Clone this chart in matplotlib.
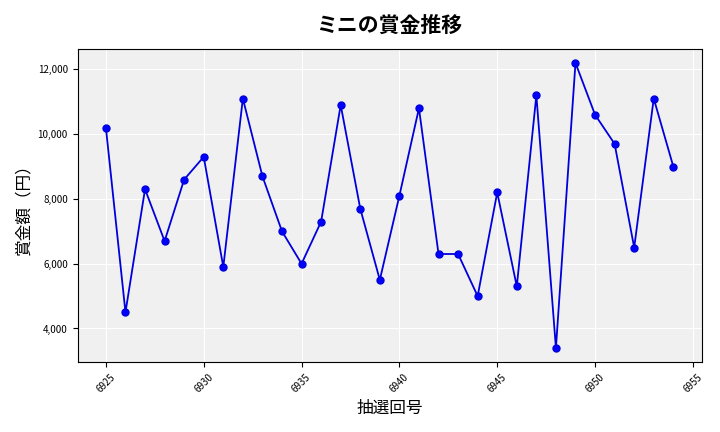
import matplotlib
matplotlib.use("Agg")
import matplotlib.pyplot as plt
from matplotlib.ticker import FuncFormatter

plt.rcParams['font.family'] = ['Noto Sans CJK JP', 'DejaVu Sans']

draws = list(range(6925, 6955))
prize = [10200, 4500, 8300, 6700, 8600, 9300, 5900, 11100, 8700, 7000,
         6000, 7300, 10900, 7700, 5500, 8100, 10800, 6300, 6300, 5000,
         8200, 5300, 11200, 3400, 12200, 10600, 9700, 6500, 11100, 9000]

fig, ax = plt.subplots(figsize=(7.2, 4.32), dpi=100)
ax.set_facecolor('#f0f0f0')
ax.grid(True, color='white', linewidth=0.8)
ax.set_axisbelow(True)
ax.plot(draws, prize, color='#0000dd', marker='o', markersize=5,
        markerfacecolor='blue', linewidth=1.3)
ax.set_title('ミニの賞金推移', fontsize=15, fontweight='bold', pad=12)
ax.set_xlabel('抽選回号', fontsize=12)
ax.set_ylabel('賞金額（円）', fontsize=12)
ax.yaxis.set_major_formatter(FuncFormatter(lambda v, p: f'{int(v):,}'))
ax.set_yticks([4000, 6000, 8000, 10000, 12000])
ax.set_xticks(range(6925, 6956, 5))
ax.tick_params(axis='x', labelrotation=45, labelsize=7)
ax.tick_params(axis='y', labelsize=7)
ax.set_ylim(2960, 12640)
fig.tight_layout()
fig.savefig('out.png', dpi=100)
